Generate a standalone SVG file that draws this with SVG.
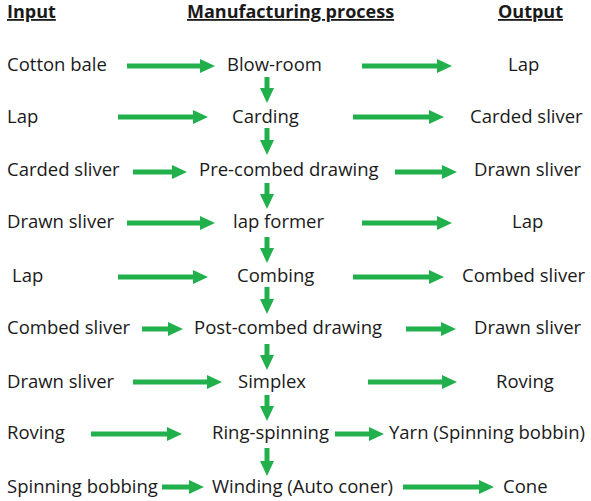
<svg xmlns="http://www.w3.org/2000/svg" width="591" height="501" viewBox="0 0 591 501">
<style>
text{font-family:"Open Sans","Noto Sans","DejaVu Sans",sans-serif;font-size:18.5px;fill:#1a1a1a}
.h{font-weight:bold;text-decoration:underline;font-size:18px}
.c line{stroke:#21b04b;stroke-width:5;marker-end:url(#ah)}
</style>
<defs>
<marker id="ah" markerUnits="userSpaceOnUse" markerWidth="16" markerHeight="14" refX="1" refY="7" orient="auto">
<path d="M0,0 L15,7 L0,14 Z" fill="#21b04b"/>
</marker>
</defs>
<rect width="591" height="501" fill="#fff"/>
<g id="headers">
<text class="h" x="7" y="18">Input</text>
<text class="h" x="187" y="18">Manufacturing process</text>
<text class="h" x="498" y="18">Output</text>
</g>
<g id="inputs">
<g id="in1"><text x="7" y="71">Cotton bale</text></g>
<g id="in2"><text x="7" y="123">Lap</text></g>
<g id="in3"><text x="7" y="176">Carded sliver</text></g>
<g id="in4"><text x="7" y="228">Drawn sliver</text></g>
<g id="in5"><text x="12" y="282">Lap</text></g>
<g id="in6"><text x="7" y="334">Combed sliver</text></g>
<g id="in7"><text x="7" y="388">Drawn sliver</text></g>
<g id="in8"><text x="7" y="439">Roving</text></g>
<g id="in9"><text x="7" y="493">Spinning bobbing</text></g>
</g>
<g id="processes">
<g id="p1"><text x="227" y="71">Blow-room</text></g>
<g id="p2"><text x="232" y="123">Carding</text></g>
<g id="p3"><text x="199" y="176">Pre-combed drawing</text></g>
<g id="p4"><text x="233" y="228">lap former</text></g>
<g id="p5"><text x="237" y="282">Combing</text></g>
<g id="p6"><text x="194" y="334">Post-combed drawing</text></g>
<g id="p7"><text x="238" y="388">Simplex</text></g>
<g id="p8"><text x="212" y="439">Ring-spinning</text></g>
<g id="p9"><text x="212" y="493">Winding (Auto coner)</text></g>
</g>
<g id="outputs">
<g id="o1"><text x="508" y="71">Lap</text></g>
<g id="o2"><text x="470" y="123">Carded sliver</text></g>
<g id="o3"><text x="474" y="176">Drawn sliver</text></g>
<g id="o4"><text x="512" y="228">Lap</text></g>
<g id="o5"><text x="462" y="282">Combed sliver</text></g>
<g id="o6"><text x="474" y="334">Drawn sliver</text></g>
<g id="o7"><text x="496" y="388">Roving</text></g>
<g id="o8"><text x="389" y="439">Yarn (Spinning bobbin)</text></g>
<g id="o9"><text x="503" y="493">Cone</text></g>
</g>
<g id="connectors" class="c">
<line x1="127" y1="66" x2="201" y2="66"/>
<line x1="118" y1="117" x2="194" y2="117"/>
<line x1="133" y1="172" x2="173" y2="172"/>
<line x1="127" y1="223" x2="201" y2="223"/>
<line x1="118" y1="277" x2="194" y2="277"/>
<line x1="142" y1="329" x2="169" y2="329"/>
<line x1="133" y1="382" x2="208" y2="382"/>
<line x1="91" y1="434" x2="168" y2="434"/>
<line x1="162" y1="487" x2="190" y2="487"/>
<line x1="362" y1="66" x2="438" y2="66"/>
<line x1="353" y1="117" x2="430" y2="117"/>
<line x1="395" y1="172" x2="443" y2="172"/>
<line x1="362" y1="223" x2="438" y2="223"/>
<line x1="353" y1="277" x2="430" y2="277"/>
<line x1="406" y1="329" x2="442" y2="329"/>
<line x1="368" y1="382" x2="443" y2="382"/>
<line x1="335" y1="434" x2="370" y2="434"/>
<line x1="403" y1="487" x2="480" y2="487"/>
<line x1="267" y1="77" x2="267" y2="89"/>
<line x1="267" y1="128" x2="267" y2="141"/>
<line x1="267" y1="183" x2="267" y2="195"/>
<line x1="267" y1="237" x2="267" y2="249"/>
<line x1="267" y1="287" x2="267" y2="300"/>
<line x1="267" y1="344" x2="267" y2="356"/>
<line x1="267" y1="395" x2="267" y2="407"/>
<line x1="267" y1="448" x2="267" y2="462"/>
</g>
</svg>
